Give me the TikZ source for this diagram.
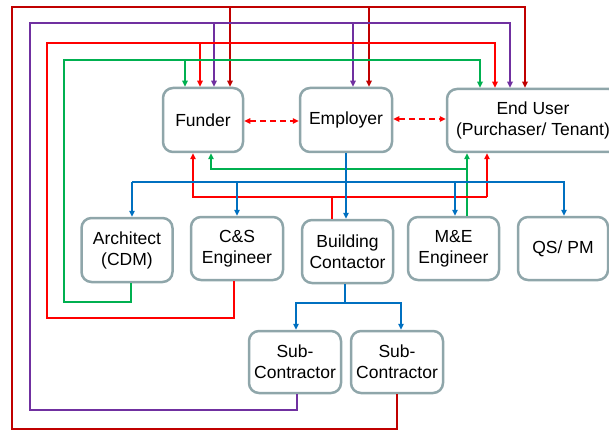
\documentclass[tikz,border=0pt]{standalone}
\usepackage{fontspec}
\setmainfont{Liberation Sans}
\usetikzlibrary{arrows.meta}
\definecolor{dred}{RGB}{192,0,0}
\definecolor{cpurple}{RGB}{112,48,160}
\definecolor{cred}{RGB}{255,0,0}
\definecolor{cgreen}{RGB}{0,176,80}
\definecolor{cblue}{RGB}{0,112,192}
\definecolor{boxgray}{RGB}{143,166,170}
\begin{document}
\begin{tikzpicture}[x=1pt,y=-1pt,
  box/.style={draw=boxgray, line width=2.5pt, rounded corners=10pt, fill=white,
    align=center, inner sep=2pt, font=\fontsize{17.5}{21}\selectfont},
  conn/.style={line width=2pt},
  arr/.style={-{Triangle[length=6pt,width=5.5pt]}},
  darr/.style={{Triangle[length=6pt,width=5.5pt]}-{Triangle[length=6pt,width=5.5pt]}},
]
\path[use as bounding box] (0,0) rectangle (609,430);
\clip (0,0) rectangle (609,430);

% boxes
\node[box, minimum width=80pt, minimum height=64pt] (funder) at (203,120) {Funder};
\node[box, minimum width=92pt, minimum height=64pt] (employer) at (346,120) {Employer};
\node[box, minimum width=172pt, minimum height=63pt] (enduser) at (533,120.5) {End User\\(Purchaser/ Tenant)};
\node[box, minimum width=91pt, minimum height=64pt] (arch) at (127,250) {Architect\\(CDM)};
\node[box, minimum width=92pt, minimum height=63pt] (cs) at (237,248.5) {C\&S\\Engineer};
\node[box, minimum width=91pt, minimum height=63pt] (build) at (347.5,251.5) {Building\\Contactor};
\node[box, minimum width=91pt, minimum height=63pt] (me) at (453.5,248.5) {M\&E\\Engineer};
\node[box, minimum width=90pt, minimum height=63pt] (qs) at (563,248.5) {QS/ PM};
\node[box, minimum width=92pt, minimum height=62pt] (sub1) at (295,362) {Sub-\\Contractor};
\node[box, minimum width=92pt, minimum height=62pt] (sub2) at (397,362) {Sub-\\Contractor};

% dark red: sub-contractor 2 -> funder, employer, end user
\draw[conn,dred,arr] (397,0 |- sub2.south) -- (397,429) -- (12,429) -- (12,7) -- (525,7) -- (525,0 |- enduser.north);
\draw[conn,dred,arr] (230,7) -- (230,0 |- funder.north);
\draw[conn,dred,arr] (369,7) -- (369,0 |- employer.north);

% purple: sub-contractor 1 -> funder, employer, end user
\draw[conn,cpurple,arr] (297,0 |- sub1.south) -- (297,410) -- (30,410) -- (30,23) -- (510,23) -- (510,0 |- enduser.north);
\draw[conn,cpurple,arr] (214,23) -- (214,0 |- funder.north);
\draw[conn,cpurple,arr] (353,23) -- (353,0 |- employer.north);

% red: C&S -> funder, end user
\draw[conn,cred,arr] (234,0 |- cs.south) -- (234,318) -- (47,318) -- (47,43) -- (495,43) -- (495,0 |- enduser.north);
\draw[conn,cred,arr] (200,43) -- (200,0 |- funder.north);

% green: architect -> funder, end user
\draw[conn,cgreen,arr] (131,0 |- arch.south) -- (131,302) -- (64,302) -- (64,60) -- (480,60) -- (480,0 |- enduser.north);
\draw[conn,cgreen,arr] (185,60) -- (185,0 |- funder.north);

% green: M&E -> end user, funder
\draw[conn,cgreen,arr] (467,0 |- me.north) -- (467,0 |- enduser.south);
\draw[conn,cgreen,arr] (467,169) -- (211,169) -- (211,0 |- funder.south);

% red: building contractor -> funder, end user
\draw[conn,cred] (332,0 |- build.north) -- (332,197);
\draw[conn,cred,arr] (487,197) -- (193,197) -- (193,0 |- funder.south);
\draw[conn,cred,arr] (487,197) -- (487,0 |- enduser.south);

% blue: employer -> consultants and contractor
\draw[conn,cblue,arr] (346,0 |- employer.south) -- (346,0 |- build.north);
\draw[conn,cblue] (132,182) -- (565,182);
\draw[conn,cblue,arr] (132,182) -- (132,0 |- arch.north);
\draw[conn,cblue,arr] (237,182) -- (237,0 |- cs.north);
\draw[conn,cblue,arr] (455,182) -- (455,0 |- me.north);
\draw[conn,cblue,arr] (564,182) -- (564,0 |- qs.north);

% blue: building contractor -> sub-contractors
\draw[conn,cblue] (345,0 |- build.south) -- (345,303);
\draw[conn,cblue,arr] (345,303) -- (296,303) -- (296,0 |- sub1.north);
\draw[conn,cblue,arr] (345,303) -- (401,303) -- (401,0 |- sub2.north);

% dashed red double arrows
\draw[conn,cred,darr,dash pattern=on 6pt off 4pt] (funder.east |- 0,121) -- (employer.west |- 0,121);
\draw[conn,cred,darr,dash pattern=on 6pt off 4pt] (employer.east |- 0,119) -- (enduser.west |- 0,119);
\end{tikzpicture}
\end{document}
